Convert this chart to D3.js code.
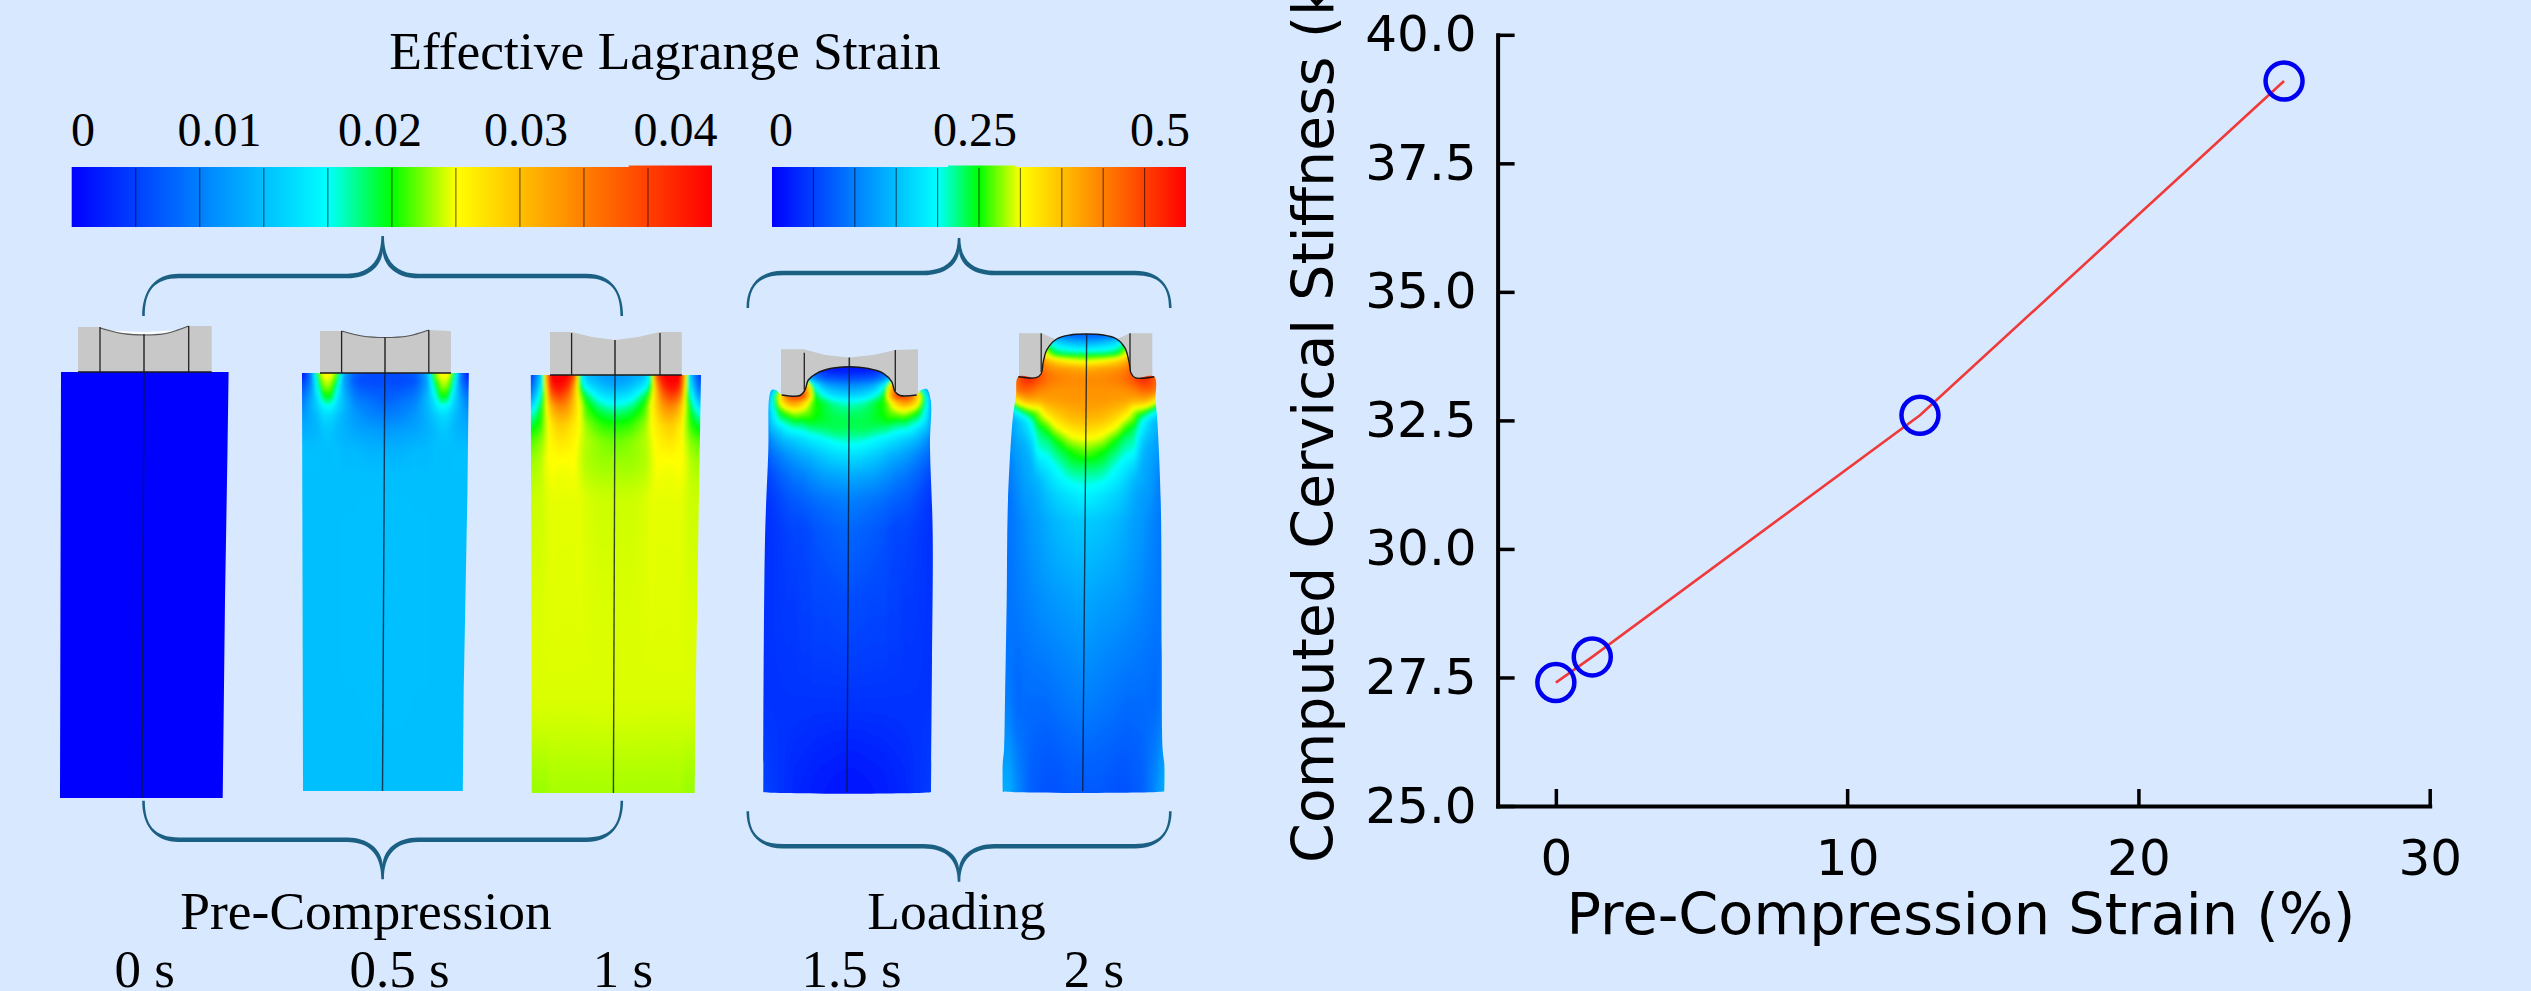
<!DOCTYPE html>
<html><head><meta charset="utf-8">
<script src="https://cdn.jsdelivr.net/npm/d3@7/dist/d3.min.js"></script>
<style>html,body{margin:0;padding:0;background:#d7e8ff;overflow:hidden}svg{display:block}</style>
</head><body>
<svg id="c" width="2531" height="991" xmlns="http://www.w3.org/2000/svg"></svg>
<script>
// ---------- chart data ----------
const preCompressionStrain = [0, 1.25, 12.5, 25];
const cervicalStiffness = [27.4, 27.9, 32.6, 39.1];
const xTicks = [0, 10, 20, 30];
const yTicks = [25, 27.5, 30, 32.5, 35, 37.5, 40];
const xLabel = "Pre-Compression Strain (%)";
const yLabel = "Computed Cervical Stiffness (kPa)";
const legendTitle = "Effective Lagrange Strain";
const phaseLabels = ["Pre-Compression", "Loading"];
const timeLabels = ["0 s", "0.5 s", "1 s", "1.5 s", "2 s"];
const barOneLabels = ["0", "0.01", "0.02", "0.03", "0.04"];
const barTwoLabels = ["0", "0.25", "0.5"];
const barStops = [0, .1, .2, .3, .4, .5, .6, .7, .8, .9, 1];
const jetStops = [0, .4, .5, .6, 1];
const jetColors = ["#0000ff", "#00ffff", "#00ff00", "#ffff00", "#ff0000"];

// strain fields: normalised colour level by |x - centre| (cols) and y (rows)
const field1 = {cols:[0,90], rows:[370,800], vals:[[0,0],[0,0]]};
const field2 = {cols:[0,15,30,42,48,55,62,68,75,84],
 rows:[374,380,386,392,398,405,415,430,450,480,800],
 vals:[
 [.12,.12,.15,.28,.50,.60,.60,.48,.20,.03],
 [.12,.12,.14,.27,.46,.57,.57,.44,.20,.08],
 [.13,.13,.16,.27,.42,.54,.54,.41,.22,.12],
 [.14,.15,.18,.28,.39,.51,.50,.38,.24,.15],
 [.15,.17,.20,.29,.36,.47,.46,.35,.26,.18],
 [.17,.19,.22,.29,.34,.40,.39,.33,.27,.20],
 [.20,.21,.24,.28,.31,.34,.34,.30,.27,.24],
 [.24,.25,.26,.28,.29,.31,.31,.29,.28,.27],
 [.28,.28,.29,.29,.30,.30,.30,.30,.30,.30],
 [.30,.30,.30,.30,.30,.30,.30,.30,.30,.30],
 [.30,.30,.30,.30,.30,.30,.30,.30,.30,.30]]};
const field3 = {cols:[0,15,30,36,41,47,56,65,70,75,85],
 rows:[376,385,395,405,415,425,440,460,500,700,795],
 vals:[
 [.24,.26,.32,.50,.85,.98,1,.98,.65,.32,.10],
 [.27,.30,.38,.52,.75,.92,.98,.92,.62,.36,.15],
 [.34,.37,.47,.57,.70,.83,.90,.82,.58,.42,.22],
 [.41,.44,.52,.60,.68,.76,.80,.72,.58,.47,.33],
 [.47,.49,.54,.60,.65,.71,.73,.67,.57,.50,.42],
 [.51,.52,.56,.60,.63,.66,.68,.63,.57,.52,.48],
 [.54,.55,.57,.59,.61,.63,.64,.61,.58,.55,.53],
 [.56,.56,.57,.585,.60,.60,.60,.60,.59,.57,.56],
 [.58,.58,.585,.59,.59,.59,.59,.59,.585,.58,.58],
 [.585,.585,.585,.585,.585,.585,.585,.585,.585,.585,.585],
 [.565,.565,.565,.565,.565,.565,.565,.565,.56,.56,.56]]};
const field4 = {cols:[0,15,25,35,40,47,55,62,70,78,84],
 rows:[368,378,385,395,402,410,420,430,440,455,475,500,530,600,700,790],
 vals:[
 [.03,.03,.05,.10,.15,.30,.30,.25,.20,.12,.08],
 [.12,.13,.15,.22,.30,.60,.50,.40,.28,.16,.10],
 [.22,.24,.28,.40,.60,.80,.70,.60,.40,.20,.10],
 [.33,.35,.40,.50,.68,.88,.88,.82,.60,.35,.15],
 [.41,.43,.47,.51,.58,.70,.76,.72,.58,.38,.22],
 [.45,.46,.48,.51,.54,.58,.60,.57,.50,.36,.23],
 [.47,.47,.48,.49,.50,.49,.49,.46,.42,.33,.22],
 [.46,.46,.45,.44,.43,.41,.40,.38,.33,.28,.20],
 [.42,.41,.39,.37,.36,.34,.32,.30,.27,.22,.17],
 [.35,.34,.32,.30,.28,.27,.25,.23,.20,.17,.13],
 [.27,.26,.25,.23,.22,.20,.19,.17,.15,.12,.10],
 [.20,.19,.18,.17,.16,.15,.14,.13,.11,.09,.08],
 [.16,.15,.14,.13,.12,.11,.11,.10,.09,.08,.07],
 [.12,.115,.11,.11,.10,.10,.09,.09,.085,.08,.08],
 [.08,.08,.08,.08,.08,.08,.08,.08,.08,.08,.08],
 [.03,.035,.04,.045,.05,.055,.06,.07,.08,.09,.10]]};
const field5 = {cols:[0,15,30,40,48,55,62,70,78],
 rows:[334,342,350,355,360,368,378,390,400,410,420,430,440,450,465,480,495,520,600,700,790],
 vals:[
 [.15,.16,.20,.25,.30,.35,.40,.40,.40],
 [.27,.29,.34,.45,.55,.60,.60,.60,.60],
 [.40,.41,.45,.55,.70,.78,.80,.80,.80],
 [.50,.50,.52,.62,.76,.85,.88,.88,.88],
 [.58,.60,.65,.72,.82,.90,.92,.90,.88],
 [.72,.74,.76,.80,.87,.93,.94,.90,.85],
 [.78,.78,.80,.83,.88,.93,.92,.84,.76],
 [.77,.77,.77,.78,.80,.83,.84,.80,.72],
 [.76,.76,.75,.74,.72,.72,.70,.62,.52],
 [.74,.73,.70,.66,.58,.55,.50,.42,.32],
 [.70,.69,.64,.57,.52,.43,.36,.30,.25],
 [.65,.63,.57,.50,.46,.38,.32,.28,.23],
 [.59,.57,.50,.45,.43,.34,.29,.26,.22],
 [.54,.51,.46,.42,.40,.31,.27,.25,.21],
 [.47,.46,.41,.37,.34,.28,.26,.23,.20],
 [.42,.41,.37,.33,.29,.27,.25,.22,.19],
 [.38,.36,.33,.30,.27,.25,.24,.21,.18],
 [.32,.31,.29,.27,.25,.24,.22,.20,.18],
 [.26,.25,.24,.23,.22,.21,.20,.19,.18],
 [.20,.19,.18,.17,.17,.17,.17,.17,.20],
 [.14,.14,.13,.13,.14,.15,.18,.22,.27]]};

// ---------- layout ----------
const W = 2531, H = 991, BG = "#d7e8ff", BRACE = "#1b5f83";
const serif = "'Liberation Serif','Times New Roman',serif";
const sans = "'DejaVu Sans',sans-serif";
const svg = d3.select("#c");
svg.append("rect").attr("width",W).attr("height",H).attr("fill",BG);
const defs = svg.append("defs");
const blur = defs.append("filter").attr("id","soft").attr("x","-5%").attr("y","-5%").attr("width","110%").attr("height","110%");
blur.append("feGaussianBlur").attr("stdDeviation",1.8);

const jet = d3.scaleLinear().domain(jetStops).range(jetColors).clamp(true);

// ---------- colour bars ----------
function colourBar(id, x0, x1, y0, y1, bump){
  const sx = d3.scaleLinear().domain([0,1]).range([x0,x1]);
  const g = defs.append("linearGradient").attr("id",id).attr("gradientUnits","userSpaceOnUse").attr("x1",x0).attr("x2",x1).attr("y1",0).attr("y2",0);
  jetStops.forEach((s,i)=>g.append("stop").attr("offset",s).attr("stop-color",jetColors[i]));
  svg.append("rect").attr("x",x0).attr("y",y0).attr("width",x1-x0).attr("height",y1-y0).attr("fill",`url(#${id})`);
  svg.append("rect").attr("x",sx(bump[0])).attr("y",y0-1.5).attr("width",sx(bump[1])-sx(bump[0])).attr("height",3).attr("fill",`url(#${id})`);
  svg.append("g").selectAll("line").data(barStops.slice(1,-1)).join("line")
    .attr("x1",d=>sx(d)).attr("x2",d=>sx(d)).attr("y1",y0+1).attr("y2",y1)
    .attr("stroke","#000").attr("stroke-opacity",.55).attr("stroke-width",1.2);
}
colourBar("barA",71.7,712,167,227,[.87,1]);
colourBar("barB",772,1186,167,227,[.425,.59]);

function serifText(t,x,y,size,anchor){
  svg.append("text").attr("x",x).attr("y",y).attr("font-family",serif).attr("font-size",size)
    .attr("text-anchor",anchor||"middle").attr("fill","#000").text(t);
}
serifText(legendTitle,665,69,53.5);
const barOneX=[83,219.5,380,526,675.5], barTwoX=[781,975,1160];
barOneLabels.forEach((t,i)=>serifText(t,barOneX[i],146,48));
barTwoLabels.forEach((t,i)=>serifText(t,barTwoX[i],146,48));
serifText(phaseLabels[0],366,929,53.5);
serifText(phaseLabels[1],956.5,929,53.5);
const timeX=[144.7,399.5,623,851.5,1094];
timeLabels.forEach((t,i)=>serifText(t,timeX[i],987,53));

// ---------- braces (filled, thick along the flats, thin at the ends and tip) ----------
function brace(x0,x1,yEnd,yFlat,yTip){
  const xm=(x0+x1)/2, k=35.5, e=yFlat-yEnd, t=yTip-yFlat, s=Math.sign(t), hw=1.3, hf=2.3;
  const p=d3.path();
  p.moveTo(x0-hw,yEnd);
  p.bezierCurveTo(x0-hw,yEnd+e*.62,x0+k*.3,yFlat+s*hf,x0+k,yFlat+s*hf);
  p.lineTo(xm-k,yFlat+s*hf);
  p.bezierCurveTo(xm-k*.35,yFlat+s*hf,xm-hw,yFlat+t*.4,xm-hw,yTip);
  p.lineTo(xm+hw,yTip);
  p.bezierCurveTo(xm+hw,yFlat+t*.4,xm+k*.35,yFlat+s*hf,xm+k,yFlat+s*hf);
  p.lineTo(x1-k,yFlat+s*hf);
  p.bezierCurveTo(x1-k*.3,yFlat+s*hf,x1+hw,yEnd+e*.62,x1+hw,yEnd);
  p.lineTo(x1-hw,yEnd);
  p.bezierCurveTo(x1-hw,yEnd+e*.62,x1-k*.3,yFlat-s*hf,x1-k,yFlat-s*hf);
  p.lineTo(xm+k,yFlat-s*hf);
  p.bezierCurveTo(xm+k*.4,yFlat-s*hf,xm+1,yFlat+t*.25,xm,yFlat+t*.62);
  p.bezierCurveTo(xm-1,yFlat+t*.25,xm-k*.4,yFlat-s*hf,xm-k,yFlat-s*hf);
  p.lineTo(x0+k,yFlat-s*hf);
  p.bezierCurveTo(x0+k*.3,yFlat-s*hf,x0+hw,yEnd+e*.62,x0+hw,yEnd);
  p.closePath();
  svg.append("path").attr("d",p.toString()).attr("fill",BRACE);
}
brace(143.5,621.8,316,276,236);
brace(747.8,1170.3,308,273,238);
brace(143.5,621.8,800.7,839.7,879.3);
brace(747.8,1170.3,811.3,846.3,881.7);

// ---------- model panels ----------
const cr=(a,b,c,d,t)=>.5*((2*b)+(c-a)*t+(2*a-5*b+4*c-d)*t*t+(3*b-a-3*c+d)*t*t*t);
const at=(n,i)=>Math.max(0,Math.min(n-1,i));
function sample(f,r,c){
  const nr=f.rows.length,nc=f.cols.length,r0=Math.floor(r),c0=Math.floor(c),fr=r-r0,fc=c-c0,v=[];
  for(let a=-1;a<=2;a++){
    const row=f.vals[at(nr,r0+a)];
    v.push(cr(row[at(nc,c0-1)],row[at(nc,c0)],row[at(nc,c0+1)],row[at(nc,c0+2)],fc));
  }
  return cr(v[0],v[1],v[2],v[3],fr);
}
function fieldImage(f,cx,x0,x1,y0,y1){
  const rowI=d3.scaleLinear().domain(f.rows).range(f.rows.map((_,i)=>i)).clamp(true);
  const colI=d3.scaleLinear().domain(f.cols).range(f.cols.map((_,i)=>i)).clamp(true);
  const w=x1-x0,h=y1-y0,cv=document.createElement("canvas"); cv.width=w; cv.height=h;
  const ctx=cv.getContext("2d"), im=ctx.createImageData(w,h);
  for(let j=0;j<h;j++){
    const r=rowI(y0+j);
    for(let i=0;i<w;i++){
      const v=sample(f,r,colI(Math.abs(x0+i-cx)));
      const col=d3.rgb(jet(v)), k=(j*w+i)*4;
      im.data[k]=col.r; im.data[k+1]=col.g; im.data[k+2]=col.b; im.data[k+3]=255;
    }
  }
  ctx.putImageData(im,0,0);
  return cv.toDataURL();
}
const panels=[
 {f:field1,cx:144,cl:[[144,372],[142,798]],curve:false,
  ind:[[78,327],[100,327],[122,333],[144,334.5],[166,333],[188.7,326],[211.7,326],[211.7,372],[78,372]],
  inner:[[[100,327],[100,372]],[[188.7,326],[188.7,372]]],
  top:[[100,328],[122,333.5],[144,335],[166,333.5],[188.7,326]], icl:[[144,334],[144,372]], contact:[[78,372],[211.7,372]],
  sliver:[[105,330.5],[125,333],[144,334],[163,333],[177,330.5],[144,332]],
  body:[[61,372],[228.6,372],[227.5,450],[225,600],[222.7,798],[60,798]]},
 {f:field2,cx:385,cl:[[384.8,373],[382.5,791]],curve:false,
  ind:[[320,331],[341.6,331],[362,336],[385,337.5],[408,336],[428.8,330],[450.9,331],[450.9,373],[320,373]],
  inner:[[[341.6,331],[341.6,373]],[[428.8,330],[428.8,373]]],
  top:[[341.6,331],[362,336],[385,337.5],[408,336],[428.8,330]], icl:[[385,337],[385,373]], contact:[[320,373],[450.9,373]],
  body:[[302,373],[468.8,373],[467.4,493],[463.7,690],[462.8,791],[303,791]]},
 {f:field3,cx:615,cl:[[615,375],[613.4,793]],curve:false,
  ind:[[550,332],[571.6,332],[592,337],[615,340],[638,337],[660,332],[681.8,332],[681.8,375],[550,375]],
  inner:[[[571.6,333],[571.6,375]],[[660,333],[660,375]]],
  icl:[[615,340],[615,375]], contact:[[550,375],[681.8,375]],
  body:[[530.8,375],[701,375],[699,493],[695.6,700],[694.7,793],[531.7,793]]},
 {f:field4,cx:849,cl:[[849.3,367],[847,791.7]],curve:true,
  ind:[[781,349.3],[804,349.3],[825,355],[849,357.5],[873,355],[895.7,350],[918,349.3],[918,396],[781,396]],
  inner:[[[804.3,352.7],[804.3,390]],[[895.3,350],[895.3,391]]],
  icl:[[849.3,357.5],[849.3,367]],
  contact:[[781.7,395],[800,395.5],[805,390],[808.3,380],[816.7,373.3],[831.7,368.3],[849.3,366.7],[868.3,368.5],[883.3,373.3],[891.7,381.7],[895,391.7],[900,395.5],[916.7,395]],
  body:[[769.3,397],[771.7,390],[776,390],[781.7,395],[800,395.5],[805,390],[808.3,380],[816.7,373.3],[831.7,368.3],[849.3,366.7],[868.3,368.5],[883.3,373.3],[891.7,381.7],[895,391.7],[900,395.5],[916.7,395],[920,390.7],[926.7,389],[930.7,400],[930,445],[932.7,533],[932,660],[931,791.7],[931,792],[763.3,792],[763.3,791.7],[765,540],[768.3,450]]},
 {f:field5,cx:1085.7,cl:[[1086.7,334],[1082.7,791]],curve:true,
  ind:[[1019,333.3],[1041.7,333.3],[1056,339.5],[1116,339.5],[1130,333.3],[1152.3,333.3],[1152.3,378],[1019,378]],
  inner:[[[1041.2,333.3],[1041.2,372]],[[1130,333.3],[1130,372]]],
  contact:[[1018.3,376.7],[1036,377.7],[1041,374],[1043.3,361.7],[1046.7,350],[1056.7,339],[1070,335],[1085.7,334],[1103,335],[1116.7,339],[1125,348],[1129,361.7],[1131,373],[1135,377.7],[1154.3,376.7]],
  body:[[1018.3,376.7],[1036,377.7],[1041,374],[1043.3,361.7],[1046.7,350],[1056.7,339],[1070,335],[1085.7,334],[1103,335],[1116.7,339],[1125,348],[1129,361.7],[1131,373],[1135,377.7],[1154.3,376.7],[1155.5,400],[1157,416],[1160.7,500],[1161.7,650],[1162.7,750],[1164.3,764],[1164.3,791],[1164.3,791.3],[1002.7,791.3],[1002.7,791],[1002.7,764],[1004,750],[1005,700],[1006.7,600],[1008,500],[1013,416],[1016,396]]}
];
const straight=d3.line().curve(d3.curveLinear);
const smooth=d3.line().curve(d3.curveCatmullRom.alpha(.5));
const closedSmooth=d3.line().curve(d3.curveCatmullRomClosed.alpha(.5));
panels.forEach((p,n)=>{
  const G=svg.append("g");
  G.append("path").attr("d",straight(p.ind)+"Z").attr("fill","#c8c8c8");
  if(p.sliver) G.append("path").attr("d",smooth(p.sliver)+"Z").attr("fill","#fff");
  if(p.top) G.append("path").attr("d",smooth(p.top)).attr("fill","none").attr("stroke","#555").attr("stroke-width",1.2);
  p.inner.forEach(l=>G.append("path").attr("d",straight(l)).attr("stroke","#222").attr("stroke-width",1.3).attr("fill","none"));
  if(p.icl) G.append("path").attr("d",straight(p.icl)).attr("stroke","#333").attr("stroke-width",1.6);
  const xs=p.body.map(d=>d[0]), ys=p.body.map(d=>d[1]);
  const x0=Math.floor(d3.min(xs))-12,x1=Math.ceil(d3.max(xs))+12,y0=Math.floor(d3.min(ys))-12,y1=Math.ceil(d3.max(ys))+12;
  const id="clip"+n, bd=p.curve?closedSmooth(p.body):straight(p.body)+"Z";
  defs.append("clipPath").attr("id",id).append("path").attr("d",bd);
  G.append("g").attr("clip-path",`url(#${id})`).append("image").attr("x",x0).attr("y",y0).attr("width",x1-x0).attr("height",y1-y0)
    .attr("preserveAspectRatio","none").attr("href",fieldImage(p.f,p.cx,x0,x1,y0,y1)).attr("filter","url(#soft)");
  G.append("path").attr("d",(p.curve?smooth:straight)(p.contact)).attr("fill","none").attr("stroke","#1a1a1a").attr("stroke-width",1.4);
  G.append("path").attr("d",straight(p.cl)).attr("stroke","#0a1a33").attr("stroke-opacity",.8).attr("stroke-width",1.4);
});

// ---------- stiffness chart ----------
const x=d3.scaleLinear().domain([-2,30]).range([1497.6,2429.7]);
const y=d3.scaleLinear().domain([25,40]).range([806,34.8]);
const AX=4;
const gx=svg.append("g").attr("transform",`translate(0,${y(25)})`)
  .call(d3.axisBottom(x).tickValues(xTicks).tickFormat(d3.format("d")).tickSizeInner(-17).tickSizeOuter(0).tickPadding(33));
const gy=svg.append("g").attr("transform",`translate(${x(-2)},0)`)
  .call(d3.axisLeft(y).tickValues(yTicks).tickFormat(d3.format(".1f")).tickSizeInner(-17).tickSizeOuter(0).tickPadding(21));
[gx,gy].forEach(g=>{
  g.select(".domain").attr("stroke","#000").attr("stroke-width",AX).attr("stroke-linecap","square");
  g.selectAll(".tick line").attr("stroke","#000").attr("stroke-width",AX-.5);
  g.selectAll("text").attr("font-family",sans).attr("font-size",50).attr("fill","#000");
});
const pts=preCompressionStrain.map((s,i)=>[s,cervicalStiffness[i]]);
svg.append("path").attr("d",d3.line().x(d=>x(d[0])).y(d=>y(d[1]))(pts)).attr("fill","none").attr("stroke","#f03a3a").attr("stroke-width",2.6);
svg.append("g").selectAll("circle").data(pts).join("circle")
  .attr("cx",d=>x(d[0])).attr("cy",d=>y(d[1])).attr("r",18.5).attr("fill","none").attr("stroke","#0000f0").attr("stroke-width",4.5);
svg.append("text").attr("x",1961).attr("y",934).attr("text-anchor","middle").attr("font-family",sans).attr("font-size",57.3).attr("fill","#000").text(xLabel);
svg.append("text").attr("transform","translate(1333,863) rotate(-90)").attr("font-family",sans).attr("font-size",57).attr("fill","#000").text(yLabel);
</script>
</body></html>
